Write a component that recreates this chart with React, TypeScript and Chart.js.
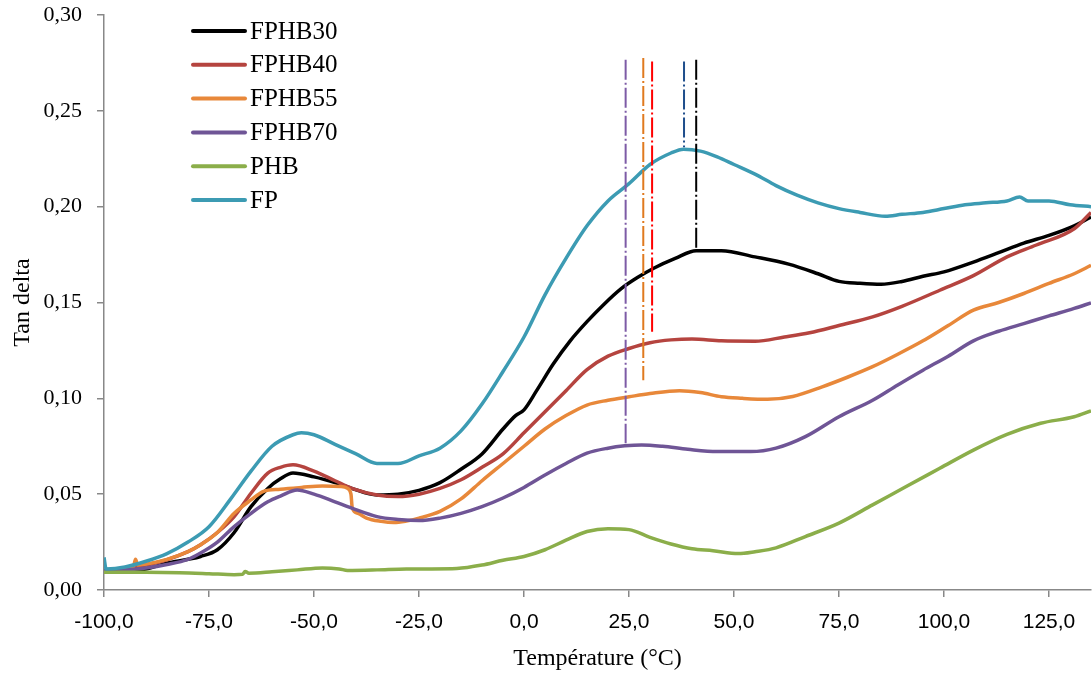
import React, { useEffect, useRef } from "react";
import { Chart, registerables } from "chart.js";

Chart.register(...registerables);

// ---------- data ----------
const seriesNames = ["FPHB30", "FPHB40", "FPHB55", "FPHB70", "PHB", "FP"];
const seriesColors = ["#000000", "#B5443F", "#E8883A", "#6F5596", "#8BAE4A", "#3C9BB3"];

const fphb30Temp = [-100, -95, -90, -85, -80, -77, -73, -69, -65, -61, -58, -55, -50, -45, -41, -35, -30, -25, -20, -15, -10, -5, -2, 0, 3, 7, 11, 15, 19, 23, 27, 31, 36, 41, 47, 55, 63, 70, 75, 80, 85, 90, 95, 100, 107, 113, 119, 125, 131, 135];
const fphb30Tan = [0.0097, 0.010, 0.011, 0.014, 0.016, 0.0175, 0.021, 0.030, 0.0435, 0.053, 0.058, 0.061, 0.059, 0.056, 0.053, 0.0496, 0.050, 0.052, 0.056, 0.063, 0.071, 0.084, 0.091, 0.094, 0.104, 0.118, 0.130, 0.140, 0.149, 0.157, 0.163, 0.168, 0.173, 0.177, 0.177, 0.1738, 0.170, 0.165, 0.161, 0.160, 0.1595, 0.161, 0.1637, 0.166, 0.1711, 0.176, 0.181, 0.185, 0.190, 0.1946];

const fphb40Temp = [-100, -95, -90, -85, -80, -77, -73, -69, -65, -61, -58, -55, -50, -45, -41, -35, -30, -25, -20, -15, -10, -5, 0, 5, 10, 15, 20, 25, 30, 35, 40, 47, 55, 62, 68, 75, 83, 90, 99, 107, 115, 122, 131, 135];
const fphb40Tan = [0.010, 0.011, 0.013, 0.0158, 0.020, 0.0236, 0.030, 0.0383, 0.0505, 0.061, 0.064, 0.0653, 0.062, 0.057, 0.053, 0.0496, 0.0488, 0.050, 0.053, 0.0575, 0.064, 0.071, 0.082, 0.093, 0.104, 0.115, 0.122, 0.126, 0.129, 0.1305, 0.131, 0.130, 0.1298, 0.132, 0.1342, 0.138, 0.1425, 0.148, 0.1564, 0.164, 0.1738, 0.180, 0.1885, 0.197];

const fphb55Temp = [-100, -95, -93, -92.5, -92, -90, -85, -80, -77, -73, -69, -65, -62, -58, -53, -48, -43.5, -42, -41.2, -40.9, -39.5, -37.5, -34, -31, -28, -25, -20, -15, -10, -5, 0, 5, 10, 15, 20, 25, 30, 37, 42, 47, 52, 58, 64, 71, 77, 83, 89, 95, 101, 107, 113, 119, 125, 131, 135];
const fphb55Tan = [0.010, 0.011, 0.012, 0.016, 0.013, 0.0135, 0.016, 0.020, 0.0236, 0.030, 0.040, 0.047, 0.0515, 0.0526, 0.0535, 0.0543, 0.054, 0.053, 0.050, 0.043, 0.040, 0.0375, 0.0358, 0.0352, 0.036, 0.0375, 0.041, 0.0475, 0.057, 0.066, 0.075, 0.084, 0.091, 0.0965, 0.099, 0.1008, 0.1025, 0.104, 0.103, 0.1008, 0.100, 0.0995, 0.101, 0.106, 0.111, 0.1165, 0.123, 0.130, 0.138, 0.146, 0.150, 0.1547, 0.160, 0.165, 0.1694];

const fphb70Temp = [-100, -95, -90, -85, -80, -77, -73, -69, -65, -61, -58, -54, -50, -45, -41, -35, -30, -25, -20, -15, -10, -5, 0, 5, 10, 15, 20, 24, 28, 33, 39, 46, 54, 60, 67, 75, 83, 89, 95, 101, 107, 113, 119, 125, 131, 135];
const fphb70Tan = [0.010, 0.0105, 0.0115, 0.0133, 0.016, 0.0193, 0.025, 0.0331, 0.040, 0.046, 0.049, 0.0522, 0.050, 0.046, 0.0427, 0.0383, 0.0368, 0.0362, 0.0375, 0.040, 0.0435, 0.048, 0.0535, 0.060, 0.066, 0.0714, 0.074, 0.0752, 0.0757, 0.075, 0.0734, 0.0722, 0.0722, 0.074, 0.080, 0.0904, 0.099, 0.107, 0.1147, 0.122, 0.130, 0.135, 0.139, 0.143, 0.1469, 0.1498];

const phbTemp = [-100, -90, -82, -75, -69, -67, -66.4, -65.5, -60, -54, -48, -44, -42, -35, -28, -22, -16, -10, -5, 0, 5, 10, 15, 20, 25, 30, 35, 40, 45, 51, 55, 60, 67, 75, 83, 91, 99, 107, 115, 123, 131, 135];
const phbTan = [0.0092, 0.0092, 0.009, 0.0085, 0.008, 0.0082, 0.0097, 0.0088, 0.0095, 0.0105, 0.0115, 0.011, 0.0102, 0.0105, 0.011, 0.011, 0.0112, 0.013, 0.0155, 0.0175, 0.021, 0.026, 0.0305, 0.032, 0.0315, 0.0275, 0.024, 0.0215, 0.0205, 0.019, 0.020, 0.022, 0.0279, 0.0349, 0.0444, 0.054, 0.0635, 0.073, 0.0812, 0.087, 0.0904, 0.0935];

const fpTemp = [-100, -99.5, -95, -90, -85, -80, -75, -70, -65, -60, -55, -53, -50, -45, -40, -35, -30, -25, -20, -15, -10, -5, 0, 5, 10, 15, 20, 25, 30, 35, 38, 42, 46, 50, 55, 60, 65, 70, 75, 80, 86, 90, 95, 100, 105, 110, 115, 118, 120, 125, 130, 135];
const fpTan = [0.017, 0.011, 0.012, 0.015, 0.019, 0.025, 0.033, 0.047, 0.062, 0.075, 0.081, 0.082, 0.081, 0.076, 0.071, 0.066, 0.066, 0.070, 0.074, 0.083, 0.097, 0.114, 0.132, 0.154, 0.173, 0.190, 0.203, 0.212, 0.222, 0.228, 0.230, 0.229, 0.226, 0.222, 0.217, 0.211, 0.206, 0.202, 0.199, 0.197, 0.195, 0.196, 0.197, 0.199, 0.201, 0.202, 0.203, 0.205, 0.203, 0.203, 0.201, 0.200];

const seriesTemps = [fphb30Temp, fphb40Temp, fphb55Temp, fphb70Temp, phbTemp, fpTemp];
const seriesTans = [fphb30Tan, fphb40Tan, fphb55Tan, fphb70Tan, phbTan, fpTan];

// vertical dash-dot peak markers
const markerTemps = [24.2, 28.4, 30.5, 38.1, 41.0];
const markerTops = [0.2767, 0.2776, 0.2757, 0.2757, 0.2767];
const markerBottoms = [0.0766, 0.1095, 0.1347, 0.231, 0.1772];
const markerColors = ["#7D5BA6", "#E07A1F", "#FF0000", "#1F4E8C", "#000000"];

const xMin = -100;
const xMax = 135;
const xStep = 25;
const yMin = 0;
const yMax = 0.3;
const yStep = 0.05;

const xTitle = "Température (°C)";
const yTitle = "Tan delta";

const SERIF = "'Liberation Serif', 'Times New Roman', serif";
const SANS = "'Liberation Sans', Arial, sans-serif";
const AXIS_COLOR = "#888888";

const legendPlugin = {
  id: "insideLegend",
  afterDatasetsDraw(chart: any) {
    const ctx = chart.ctx;
    ctx.save();
    ctx.font = `25px ${SERIF}`;
    ctx.textBaseline = "middle";
    ctx.fillStyle = "#000";
    seriesNames.forEach((name, i) => {
      const y = 31 + i * 33.8;
      ctx.strokeStyle = seriesColors[i];
      ctx.lineWidth = 4;
      ctx.lineCap = "round";
      ctx.beginPath();
      ctx.moveTo(193, y);
      ctx.lineTo(245, y);
      ctx.stroke();
      ctx.fillText(name, 250, y + 1);
    });
    ctx.restore();
  },
};

export default function App() {
  const ref = useRef<HTMLCanvasElement>(null);

  useEffect(() => {
    if (!ref.current) return;
    const datasets: any[] = seriesNames.map((name, i) => ({
      label: name,
      data: seriesTemps[i].map((t, k) => ({ x: t, y: seriesTans[i][k] })),
      borderColor: seriesColors[i],
      backgroundColor: seriesColors[i],
      borderWidth: 3.5,
      pointRadius: 0,
      showLine: true,
      cubicInterpolationMode: "monotone",
      order: seriesNames.length - i,
    }));
    markerTemps.forEach((t, i) => {
      datasets.push({
        label: "",
        data: [
          { x: t, y: markerTops[i] },
          { x: t, y: markerBottoms[i] },
        ],
        borderColor: markerColors[i],
        borderWidth: 2,
        borderDash: [20, 3, 2, 3],
        pointRadius: 0,
        showLine: true,
        order: -1,
      });
    });

    const chart = new Chart(ref.current, {
      type: "scatter",
      data: { datasets },
      plugins: [legendPlugin],
      options: {
        animation: false,
        responsive: false,
        devicePixelRatio: 1,
        layout: { padding: { top: 15, right: 1, left: 0, bottom: 0 } },
        plugins: { legend: { display: false }, tooltip: { enabled: false } },
        scales: {
          x: {
            type: "linear",
            min: xMin,
            max: xMax,
            grid: { display: true, drawOnChartArea: false, drawTicks: true, tickLength: 7, color: AXIS_COLOR, lineWidth: 1.5 },
            border: { display: true, color: AXIS_COLOR, width: 1.5 },
            ticks: {
              stepSize: xStep,
              includeBounds: false,
              autoSkip: false,
              maxRotation: 0,
              padding: 13,
              color: "#000",
              font: { family: SANS, size: 21 },
              callback: (v: any) => Number(v).toFixed(1).replace(".", ","),
            },
            title: {
              display: true,
              text: xTitle,
              color: "#000",
              font: { family: SERIF, size: 24 },
              padding: { top: 0, bottom: 6 },
            },
            afterFit: (scale: any) => {
              scale.height = 89;
              scale.paddingLeft = 0;
              scale.paddingRight = 0;
            },
          },
          y: {
            type: "linear",
            min: yMin,
            max: yMax,
            grid: { display: true, drawOnChartArea: false, drawTicks: true, tickLength: 7, color: AXIS_COLOR, lineWidth: 1.5 },
            border: { display: true, color: AXIS_COLOR, width: 1.5 },
            ticks: {
              stepSize: yStep,
              autoSkip: false,
              padding: 15,
              color: "#000",
              font: { family: SERIF, size: 22 },
              callback: (v: any) => Number(v).toFixed(2).replace(".", ","),
            },
            title: {
              display: true,
              text: yTitle,
              color: "#000",
              font: { family: SERIF, size: 24 },
              padding: { top: 8, bottom: 0 },
            },
            afterFit: (scale: any) => {
              scale.width = 104;
              scale.paddingTop = 0;
              scale.paddingBottom = 0;
            },
          },
        },
      },
    } as any);
    return () => chart.destroy();
  }, []);

  return (
    <div style={{ position: "absolute", left: 0, top: 0, width: 1092, height: 679, background: "#fff" }}>
      <canvas ref={ref} width={1092} height={679} style={{ display: "block", width: 1092, height: 679 }} />
    </div>
  );
}
